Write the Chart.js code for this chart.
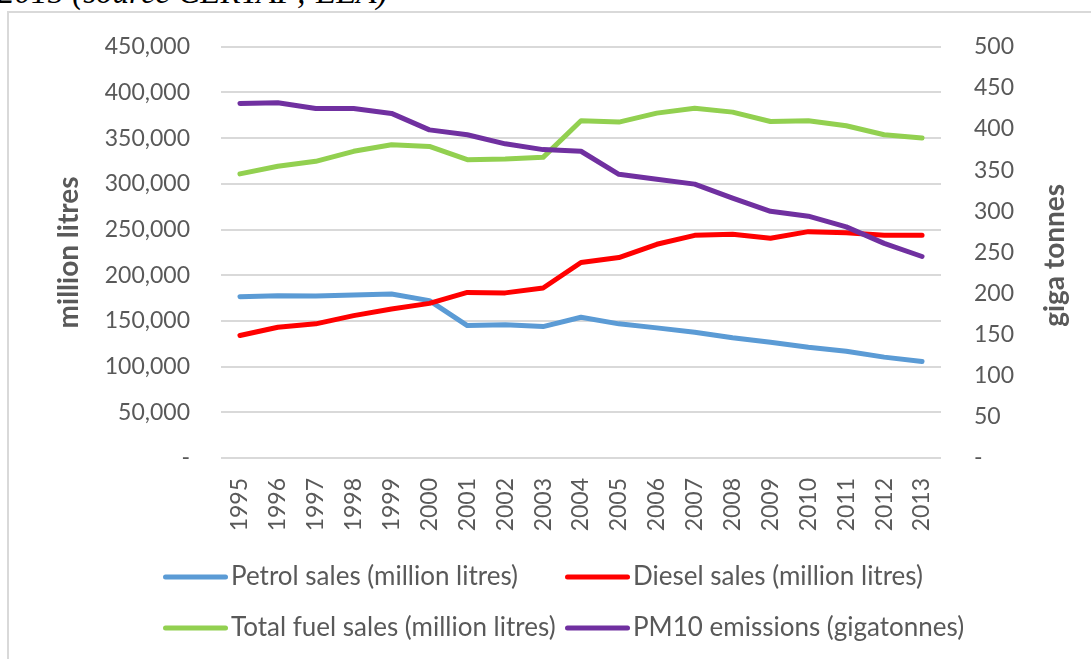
<!DOCTYPE html>
<html>
<head>
<meta charset="utf-8">
<script src="https://cdn.jsdelivr.net/npm/chart.js@4.4.1/dist/chart.umd.min.js"></script>
<style>
  html, body { margin: 0; padding: 0; background: #fff; overflow: hidden; }
  #wrap { position: absolute; left: 0; top: 0; width: 1091px; height: 659px; }
  #frame { position: absolute; left: 7px; top: 11px; width: 1200px; height: 800px;
           border-left: 2px solid #d9d9d9; border-top: 2px solid #d9d9d9; }
  #caption { position: absolute; left: -2px; top: -25px; font-family: "Liberation Serif", "DejaVu Serif", serif;
             font-style: italic; font-size: 33px; line-height: 34px; color: #000; white-space: nowrap; }
  canvas { position: absolute; left: 0; top: 0; }
</style>
</head>
<body>
<div id="wrap">
  <div id="caption">2015 (source CERTAP; EEA)</div>
  <div id="frame"></div>
  <canvas id="c" width="1091" height="659"></canvas>
</div>
<script>
const years = ['1995','1996','1997','1998','1999','2000','2001','2002','2003','2004','2005','2006','2007','2008','2009','2010','2011','2012','2013'];
const petrolSales = [176500,177600,177300,178400,179400,172200,144900,145700,143800,154000,146800,142400,137600,131500,126700,121300,116900,110400,105700];
const dieselSales = [134000,143100,146800,155800,163100,169200,181200,180700,186000,213900,219400,233900,243700,244800,240500,247700,246600,243700,243700];
const totalSales  = [310900,319300,324700,335600,342900,341000,326500,327200,329000,369000,367600,377400,382800,378500,368300,369000,363600,353800,350100];
const pm10Emissions = [431,432,425,425,419,399,393,382,375,373,345,339,333,316,300,294,281,261,245];
const seriesNames = ['Petrol sales (million litres)','Diesel sales (million litres)','Total fuel sales (million litres)','PM10 emissions (gigatonnes)'];
const seriesColors = ['#5B9BD5','#FF0000','#92D050','#7030A0'];
const leftAxisTitle = 'million litres';
const rightAxisTitle = 'giga tonnes';

const FONT = 'Lato, "Open Sans", sans-serif';
const TXT = '#595959';

const gridLegend = {
  id: 'gridLegend',
  afterDraw(chart) {
    const ctx = chart.ctx;
    const ca = chart.chartArea;
    const x0 = ca.left - 58, colW = 402;
    const y0 = 577, rowH = 51;
    ctx.save();
    chart.data.datasets.forEach((d, i) => {
      const x = x0 + (i % 2) * colW;
      const y = y0 + Math.floor(i / 2) * rowH;
      ctx.strokeStyle = d.borderColor;
      ctx.lineWidth = 5;
      ctx.lineCap = 'round';
      ctx.beginPath();
      ctx.moveTo(x + 2.5, y);
      ctx.lineTo(x + 62.5, y);
      ctx.stroke();
      ctx.fillStyle = TXT;
      ctx.font = '26px ' + FONT;
      ctx.textBaseline = 'middle';
      ctx.textAlign = 'left';
      ctx.fillText(d.label, x + 68, y);
    });
    // right axis title, reading bottom to top
    ctx.translate(1055, (ca.top + ca.bottom) / 2 + 3);
    ctx.rotate(-Math.PI / 2);
    ctx.font = 'bold 28px ' + FONT;
    ctx.fillStyle = TXT;
    ctx.textAlign = 'center';
    ctx.textBaseline = 'middle';
    ctx.fillText(rightAxisTitle, 0, 0);
    ctx.restore();
  }
};

const fmt = v => v === 0 ? '-' : v.toLocaleString('en-US');

new Chart(document.getElementById('c'), {
  type: 'line',
  data: {
    labels: years,
    datasets: [
      { label: seriesNames[0], data: petrolSales, borderColor: seriesColors[0], yAxisID: 'y', order: 4 },
      { label: seriesNames[1], data: dieselSales, borderColor: seriesColors[1], yAxisID: 'y', order: 3 },
      { label: seriesNames[2], data: totalSales, borderColor: seriesColors[2], yAxisID: 'y', order: 2 },
      { label: seriesNames[3], data: pm10Emissions, borderColor: seriesColors[3], yAxisID: 'y1', order: 1 }
    ]
  },
  options: {
    responsive: false,
    animation: false,
    devicePixelRatio: 1,
    elements: {
      line: { borderWidth: 5, tension: 0, borderCapStyle: 'round', borderJoinStyle: 'round', fill: false },
      point: { radius: 0, hoverRadius: 0 }
    },
    layout: { padding: { left: 0, right: 0, top: 45, bottom: 100 } },
    plugins: { legend: { display: false }, tooltip: { enabled: false } },
    scales: {
      x: {
        offset: true,
        grid: { display: false, drawTicks: false, offset: true },
        border: { display: false },
        ticks: { color: TXT, font: { family: FONT, size: 23 }, maxRotation: 90, minRotation: 90, autoSkip: false, padding: 20 },
        afterFit: s => { s.height = 101; }
      },
      y: {
        position: 'left', min: 0, max: 450000,
        grid: { color: '#d9d9d9', lineWidth: 2, drawTicks: false },
        border: { display: false },
        ticks: { stepSize: 50000, color: TXT, font: { family: FONT, size: 23 }, padding: 31, callback: fmt },
        title: { display: true, text: leftAxisTitle, color: TXT, font: { family: FONT, size: 28, weight: 'bold' }, padding: { top: 52, bottom: 0 } },
        afterFit: s => { s.width = 221; }
      },
      y1: {
        position: 'right', min: 0, max: 500,
        grid: { drawOnChartArea: false, drawTicks: false },
        border: { display: false },
        ticks: { stepSize: 50, color: TXT, font: { family: FONT, size: 23 }, padding: 33, callback: fmt },
        afterFit: s => { s.width = 150; }
      }
    }
  },
  plugins: [gridLegend]
});
</script>
</body>
</html>
